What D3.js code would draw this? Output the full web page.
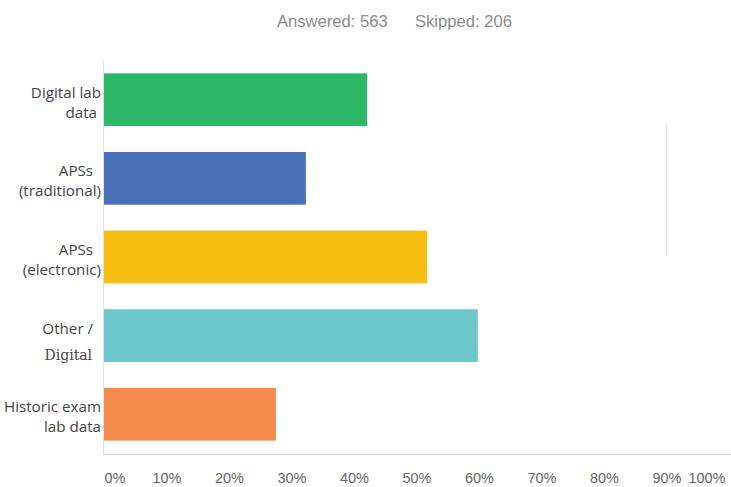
<!DOCTYPE html>
<html>
<head>
<meta charset="utf-8">
<script src="https://cdn.jsdelivr.net/npm/d3@7"></script>
<style>
  html, body { margin: 0; padding: 0; background: #ffffff; }
  svg { display: block; }
</style>
</head>
<body>
<svg id="chart" width="731" height="487"></svg>
<script>
// Survey responses: share of respondents choosing each data source
const categories = ["Digital lab data", "APSs (traditional)", "APSs (electronic)", "Other / Digital", "Historic exam lab data"];
const labelLines = [
  ["Digital lab", "data\u00a0"],
  ["APSs\u00a0\u00a0", "(traditional)"],
  ["APSs\u00a0\u00a0", "(electronic)"],
  ["Other /\u00a0\u00a0", "Digital\u00a0\u00a0"],
  ["Historic exam", "lab data"]
];
const values = [42.1, 32.3, 51.7, 59.8, 27.5];
const colors = ["#2cb769", "#4a70b7", "#f7bd13", "#6bc7cb", "#f48a4c"];
const tickValues = [0, 10, 20, 30, 40, 50, 60, 70, 80, 90, 100];
const answered = 563;
const skipped = 206;

const svg = d3.select("#chart");

const x = d3.scaleLinear().domain([0, 100]).range([104, 729]);
const y = d3.scaleBand().domain(categories).range([60, 454]).paddingInner(0.33).paddingOuter(0.17);

// header summary
svg.append("text")
  .attr("x", 277).attr("y", 27)
  .style("font-family", "'Liberation Sans', Arial, sans-serif")
  .style("font-size", "16.6px")
  .attr("fill", "#8c8c8c")
  .text(`Answered: ${answered}`);
svg.append("text")
  .attr("x", 415).attr("y", 27)
  .style("font-family", "'Liberation Sans', Arial, sans-serif")
  .style("font-size", "16.6px")
  .attr("fill", "#8c8c8c")
  .text(`Skipped: ${skipped}`);

// faint divider on the right
svg.append("line")
  .attr("x1", 666.5).attr("x2", 666.5).attr("y1", 123).attr("y2", 257)
  .attr("stroke", "#ececec").attr("stroke-width", 1);

// bars
svg.append("g").selectAll("rect")
  .data(categories)
  .join("rect")
  .attr("x", x(0))
  .attr("y", d => y(d))
  .attr("width", (d, i) => x(values[i]) - x(0))
  .attr("height", y.bandwidth())
  .attr("fill", (d, i) => colors[i]);

// value axis line
svg.append("line")
  .attr("x1", x(0)).attr("x2", 731).attr("y1", 454.5).attr("y2", 454.5)
  .attr("stroke", "#d4d4d4").attr("stroke-width", 1);
// category axis line
svg.append("line")
  .attr("x1", 103.5).attr("x2", 103.5).attr("y1", 60).attr("y2", 455)
  .attr("stroke", "#e2e2e2").attr("stroke-width", 1);

// value axis tick labels
const xAxis = d3.axisBottom(x)
  .tickValues(tickValues)
  .tickSize(0)
  .tickPadding(0)
  .tickFormat(d => d + "%");
const gx = svg.append("g").attr("transform", "translate(0,483)").call(xAxis);
gx.select(".domain").remove();
gx.selectAll("text")
  .attr("dy", 0)
  .style("font-family", "'Liberation Sans', Arial, sans-serif")
  .style("font-size", "14.5px")
  .attr("fill", "#666666")
  .attr("text-anchor", d => d === 0 ? "start" : (d === 100 ? "end" : "middle"))
  .attr("dx", d => d === 100 ? -4 : 0);

// category labels (the second line of "Other / Digital" is set in a serif face)
const gy = svg.append("g");
categories.forEach((c, i) => {
  const cy = y(c) + y.bandwidth() / 2;
  labelLines[i].forEach((line, j) => {
    const serifLine = c === "Other / Digital" && j === 1;
    gy.append("text")
      .attr("text-anchor", "end")
      .attr("x", 101)
      .attr("y", serifLine ? cy + 24 : cy - 2 + j * 20)
      .style("font-family", serifLine ? "'DejaVu Serif', 'Liberation Serif', serif" : "'Open Sans', sans-serif")
      .style("font-size", serifLine ? "14px" : "15.2px")
      .attr("fill", "#444444")
      .text(line);
  });
});
</script>
</body>
</html>
